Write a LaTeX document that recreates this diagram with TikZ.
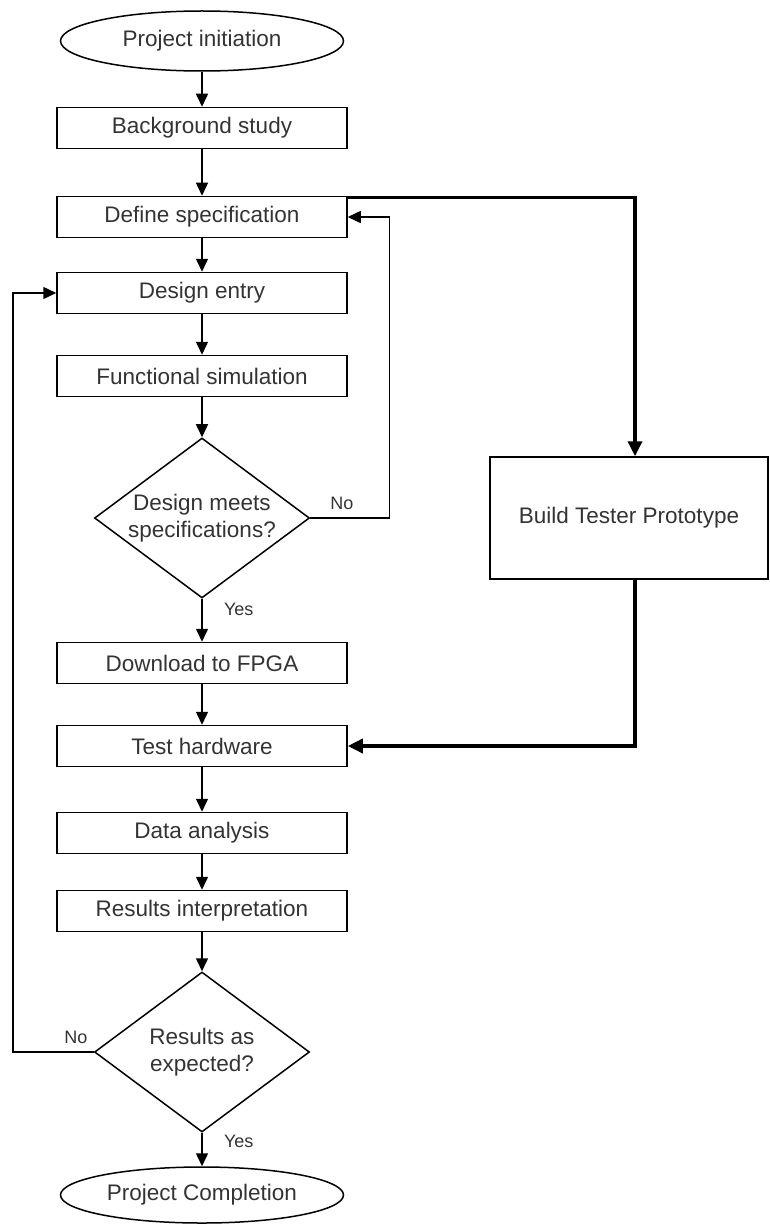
\documentclass[tikz,border=0pt]{standalone}
\usepackage{fontspec}
\setmainfont{Liberation Sans}
\usetikzlibrary{arrows.meta,shapes.geometric}

\begin{document}
\begin{tikzpicture}[x=1pt, y=1pt, node distance=85pt, line width=1.5pt,
        font=\fontsize{22.5}{27}\selectfont, text=black!80,
        >={Triangle[length=13pt,width=12pt]},
        term/.style = {draw, ellipse, minimum width=283pt, minimum height=60pt, inner sep=0pt},
        proc/.style = {draw, rectangle, minimum width=290pt, minimum height=41pt, inner sep=0pt},
        decision/.style = {draw, diamond, aspect=1.34, minimum width=215pt, minimum height=160pt, inner sep=0pt, align=center},
        lbl/.style = {font=\fontsize{18}{20}\selectfont},
        bold/.style = {line width=3.5pt, >={Triangle[length=15pt,width=14pt]}}]
        \useasboundingbox (0,0) rectangle (769,-1225);
        \node[term] (start) at (202,-41) {Project initiation};
        \node[proc] (bg)       [below of=start, node distance=87pt]  {Background study};
        \node[proc] (define)   [below of=bg, node distance=89pt]     {Define specification};
        \node[proc] (entry)    [below of=define, node distance=76pt] {Design entry};
        \node[proc] (funcsim)  [below of=entry, node distance=83pt]  {Functional simulation};
        \node[decision] (meets) [below of=funcsim, node distance=142pt] {Design meets\\specifications?};
        \node[proc] (download) [below of=meets, node distance=145pt] {Download to FPGA};
        \node[proc] (test)     [below of=download, node distance=83pt] {Test hardware};
        \node[proc] (data)     [below of=test, node distance=87pt]   {Data analysis};
        \node[proc] (interp)   [below of=data, node distance=78pt]   {Results interpretation};
        \node[decision] (expected) [below of=interp, node distance=141pt] {Results as\\expected?};
        \node[term, minimum height=56pt] (finish) [below of=expected, node distance=143pt] {Project Completion};
        \node[draw, rectangle, minimum width=278pt, minimum height=122pt] (build) [right of=meets, node distance=427pt] {Build Tester Prototype};
        % main flow
        \draw[->] (start) -- (bg);
        \draw[->] (bg) -- (define);
        \draw[->] (define) -- (entry);
        \draw[->] (entry) -- (funcsim);
        \draw[->] (funcsim) -- (meets);
        \draw[->] (meets) -- node[lbl, pos=0.25, right=18pt] {Yes} (download);
        \draw[->] (download) -- (test);
        \draw[->] (test) -- (data);
        \draw[->] (data) -- (interp);
        \draw[->] (interp) -- (expected);
        \draw[->] (expected) -- node[lbl, pos=0.25, right=18pt] {Yes} (finish);
        % loops back
        \draw[->] (meets.east) -- node[lbl, pos=0.4, above=4pt] {No} ++(79,0) |- (define.east);
        \draw[->] (expected.west) -- node[lbl, pos=0.22, above=4pt] {No} ++(-81,0) |- (entry.west);
        % tester branch
        \draw[bold, ->] ([yshift=-1.5pt]define.north east) -| ([xshift=6pt]build.north);
        \draw[bold, ->] ([xshift=6pt]build.south) |- (test.east);
\end{tikzpicture}
\end{document}
